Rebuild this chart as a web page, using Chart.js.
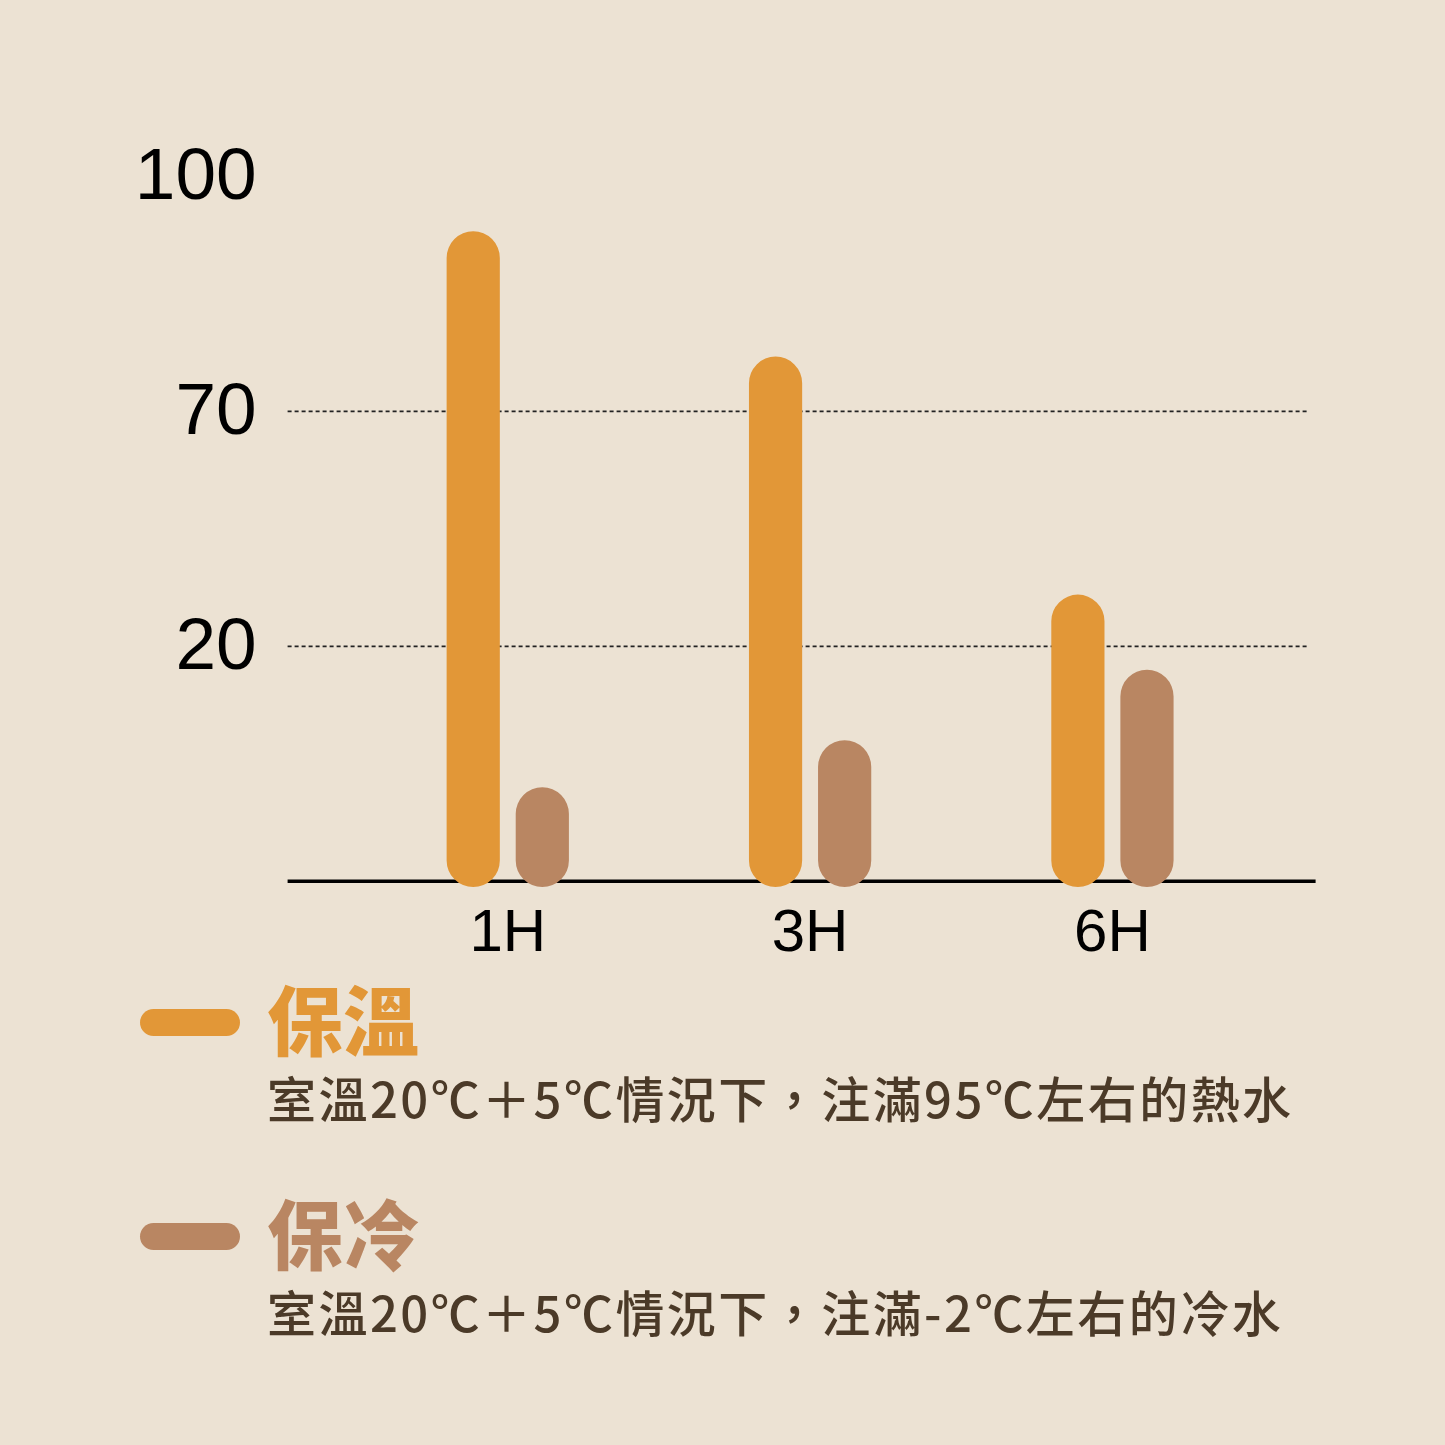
<!DOCTYPE html>
<html lang="zh-Hant">
<head>
<meta charset="utf-8">
<title>保溫 保冷</title>
<script src="https://cdn.jsdelivr.net/npm/chart.js@4.4.1/dist/chart.umd.min.js"></script>
<style>
    html, body { margin: 0; padding: 0; background: #ECE2D3; }
    #page { position: relative; width: 1445px; height: 1445px; overflow: hidden; background: #ECE2D3; }
    #tempChart { position: absolute; left: 0; top: 0; }
    .swatch { position: absolute; left: 140px; width: 100px; height: 27px; border-radius: 14px; }
    .title { position: absolute; left: 267px; font-family: "Noto Sans CJK TC"; font-weight: 900; font-size: 76px; line-height: 76px; white-space: nowrap; }
    .note { position: absolute; left: 267px; font-family: "Noto Sans CJK TC"; font-weight: 500; font-size: 49px; line-height: 49px; letter-spacing: 2.45px; color: #4B3A28; white-space: nowrap; }
</style>
</head>
<body>
<div id="page">
    <canvas id="tempChart" width="1445" height="1017"></canvas>
    <div id="legend"></div>
</div>
<script>
// Dados (°C)
const hours = ['1H', '3H', '6H'];
const hotValues = [93, 77, 31];
const coldValues = [8, 12, 18];

// Eixo y: degraus com o mesmo espaçamento
const yBreaks = [0, 20, 70, 100];
const yTickValues = [20, 70, 100];
const dashedValues = [20, 70];

const seriesNames = ['保溫', '保冷'];
const seriesNotes = ['室溫20℃＋5℃情況下，注滿95℃左右的熱水', '室溫20℃＋5℃情況下，注滿-2℃左右的冷水'];
const seriesColors = ['#E29737', '#B98662'];

// Converte valor <-> fração do eixo
function toDecimal(v) {
    const n = yBreaks.length - 1;
    let i = 0;
    while (i < n - 1 && v > yBreaks[i + 1]) i++;
    const t = (v - yBreaks[i]) / (yBreaks[i + 1] - yBreaks[i]);
    return (i + t) / n;
}

function fromDecimal(d) {
    const n = yBreaks.length - 1;
    const i = Math.min(Math.max(Math.floor(d * n), 0), n - 1);
    const t = d * n - i;
    return yBreaks[i] + t * (yBreaks[i + 1] - yBreaks[i]);
}

class StepScale extends Chart.LinearScale {
    buildTicks() {
        this.start = this.min;
        this.end = this.max;
        return yTickValues.map(v => ({ value: v }));
    }
    getPixelForValue(value) {
        if (value === null || value === undefined) return NaN;
        return this.getPixelForDecimal(toDecimal(value));
    }
    getValueForPixel(pixel) {
        return fromDecimal(this.getDecimalForPixel(pixel));
    }
}
StepScale.id = 'step';
StepScale.defaults = Object.assign({}, Chart.LinearScale.defaults);
Chart.register(StepScale);

// Linhas pontilhadas e linha de base
const guideLines = {
    id: 'guideLines',
    beforeDatasetsDraw(chart) {
        const { ctx, chartArea } = chart;
        const y = chart.scales.y;
        const left = chartArea.left - 69;
        ctx.save();
        ctx.setLineDash([4, 3]);
        ctx.strokeStyle = '#222222';
        ctx.lineWidth = 1.8;
        dashedValues.forEach(v => {
            const py = y.getPixelForValue(v);
            ctx.beginPath();
            ctx.moveTo(left, py);
            ctx.lineTo(chartArea.right + 45, py);
            ctx.stroke();
        });
        ctx.setLineDash([]);
        ctx.strokeStyle = '#000000';
        ctx.lineWidth = 3.5;
        const base = y.getPixelForValue(0);
        ctx.beginPath();
        ctx.moveTo(left, base);
        ctx.lineTo(chartArea.right + 52, base);
        ctx.stroke();
        ctx.restore();
    }
};

const tempCtx = document.getElementById('tempChart').getContext('2d');

const tempChart = new Chart(tempCtx, {
    type: 'bar',
    data: {
        labels: hours,
        datasets: [
            { label: seriesNames[0], data: hotValues, backgroundColor: seriesColors[0] },
            { label: seriesNames[1], data: coldValues, backgroundColor: seriesColors[1] }
        ]
    },
    options: {
        responsive: false,
        devicePixelRatio: 1,
        animation: false,
        layout: { padding: { left: 0, top: 176.5, right: 181.4, bottom: 0 } },
        datasets: {
            bar: {
                categoryPercentage: 0.457,
                barPercentage: 0.77,
                borderRadius: 27,
                borderSkipped: false,
                base: -0.5,
                clip: false
            }
        },
        plugins: {
            legend: { display: false },
            tooltip: { enabled: false }
        },
        scales: {
            x: {
                offset: true,
                grid: { display: false },
                border: { display: false },
                ticks: {
                    color: '#000000',
                    font: { family: 'Liberation Sans', size: 60 },
                    padding: 9.5,
                    maxRotation: 0
                },
                afterFit: scale => { scale.height = 98.5; }
            },
            y: {
                type: 'step',
                min: 0,
                max: 100,
                grid: { display: false },
                border: { display: false },
                ticks: {
                    color: '#000000',
                    font: { family: 'Liberation Sans', size: 73 },
                    padding: 92,
                    labelOffset: 2.5
                },
                afterFit: scale => { scale.width = 356.6; }
            }
        }
    },
    plugins: [guideLines]
});

// Legenda feita à mão
const legend = document.getElementById('legend');
seriesNames.forEach((name, i) => {
    const top = 979 + i * 214;
    legend.innerHTML +=
        `<div class="swatch" style="top:${top + 30}px;background:${seriesColors[i]}"></div>` +
        `<div class="title" style="top:${top}px;color:${seriesColors[i]}">${name}</div>` +
        `<div class="note" style="top:${top + 93}px">${seriesNotes[i]}</div>`;
});
</script>
</body>
</html>
